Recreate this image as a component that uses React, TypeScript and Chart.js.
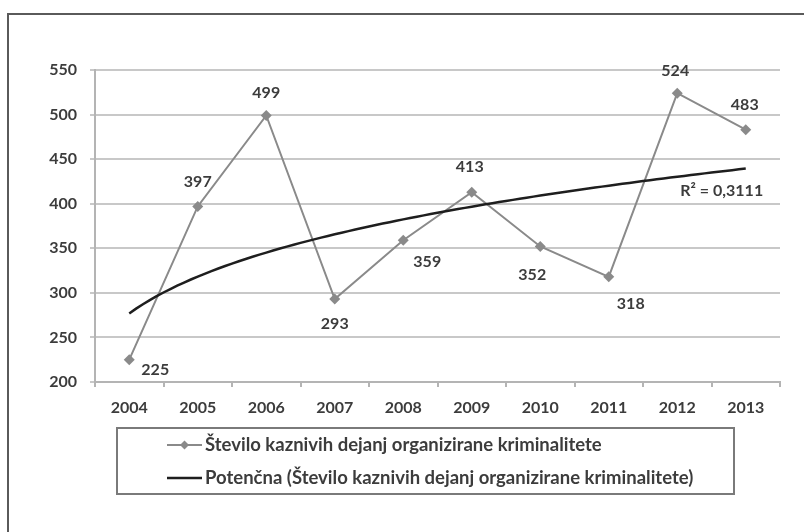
import React, { useEffect, useRef } from "react";
import { Chart, registerables } from "chart.js";

Chart.register(...registerables);

const years = ["2004", "2005", "2006", "2007", "2008", "2009", "2010", "2011", "2012", "2013"];
const crimes = [225, 397, 499, 293, 359, 413, 352, 318, 524, 483];
const yTicks = [200, 250, 300, 350, 400, 450, 500, 550];
const seriesLabel = "Število kaznivih dejanj organizirane kriminalitete";
const trendLabel = "Potenčna (Število kaznivih dejanj organizirane kriminalitete)";

// label offsets (style), relative to each point
const labelDx = [26, 0, 0, 0, 24, -2, -8, 22, -2, -1];
const labelDy = [10, -25, -23, 25, 22, -25, 28, 27, -22, -25];

const FONT = "Lato, 'Liberation Sans', sans-serif";
const TEXT = "#3c3c3c";

// power-law least-squares fit in log space (Excel "Potenčna" trendline)
function powerFit(ys: number[]) {
  const n = ys.length;
  const lx = ys.map((_, i) => Math.log(i + 1));
  const ly = ys.map((v) => Math.log(v));
  const mx = lx.reduce((s, v) => s + v, 0) / n;
  const my = ly.reduce((s, v) => s + v, 0) / n;
  let sxx = 0, sxy = 0, syy = 0;
  for (let i = 0; i < n; i++) {
    sxx += (lx[i] - mx) ** 2;
    sxy += (lx[i] - mx) * (ly[i] - my);
    syy += (ly[i] - my) ** 2;
  }
  const b = sxy / sxx;
  const a = Math.exp(my - b * mx);
  const r2 = (sxy * sxy) / (sxx * syy);
  return { a, b, r2 };
}

export default function App() {
  const ref = useRef<HTMLCanvasElement | null>(null);

  useEffect(() => {
    const canvas = ref.current;
    if (!canvas) return;
    const fit = powerFit(crimes);
    const trend: { x: number; y: number }[] = [];
    for (let k = 0; k <= 90; k++) {
      const x = 1 + k / 10;
      trend.push({ x, y: fit.a * Math.pow(x, fit.b) });
    }
    const r2Text = "R² = " + fit.r2.toFixed(4).replace(".", ",");

    const decor = {
      id: "decor",
      afterDatasetsDraw(chart: any) {
        const ctx = chart.ctx;
        const meta = chart.getDatasetMeta(0);
        ctx.save();
        ctx.font = `bold 16px ${FONT}`;
        ctx.fillStyle = TEXT;
        ctx.textAlign = "center";
        ctx.textBaseline = "middle";
        meta.data.forEach((pt: any, i: number) => {
          ctx.fillText(String(crimes[i]), pt.x + labelDx[i], pt.y + labelDy[i]);
        });
        // R² label near end of trend
        const xs = chart.scales.x2;
        const ys = chart.scales.y;
        const ex = xs.getPixelForValue(10);
        const ey = ys.getPixelForValue(trend[trend.length - 1].y);
        ctx.font = `bold 16px ${FONT}`;
        ctx.fillText(r2Text, ex - 24, ey + 22);
        ctx.restore();
      },
      afterDraw(chart: any) {
        const ctx = chart.ctx;
        ctx.save();
        // outer frame (top + left)
        ctx.strokeStyle = "#5a5a5a";
        ctx.lineWidth = 2;
        ctx.beginPath();
        ctx.moveTo(8, 532);
        ctx.lineTo(8, 14);
        ctx.lineTo(804, 14);
        ctx.stroke();
        // legend box
        ctx.strokeStyle = "#7a7a7a";
        ctx.lineWidth = 2;
        ctx.strokeRect(117, 428, 617, 66);
        const ds = chart.data.datasets;
        const rows = [445, 478];
        ctx.font = `bold 18.5px ${FONT}`;
        ctx.textAlign = "left";
        ctx.textBaseline = "middle";
        rows.forEach((y, i) => {
          const d = ds[i];
          ctx.strokeStyle = d.borderColor;
          ctx.lineWidth = d.borderWidth;
          ctx.beginPath();
          ctx.moveTo(167, y);
          ctx.lineTo(202, y);
          ctx.stroke();
          if (i === 0) {
            ctx.fillStyle = d.borderColor;
            ctx.beginPath();
            ctx.moveTo(184.5, y - 4.5);
            ctx.lineTo(189, y);
            ctx.lineTo(184.5, y + 4.5);
            ctx.lineTo(180, y);
            ctx.closePath();
            ctx.fill();
          }
          ctx.fillStyle = TEXT;
          ctx.fillText(d.label, 205, y);
        });
        ctx.restore();
      },
    };

    const chart = new Chart(canvas, {
      type: "line",
      data: {
        labels: years,
        datasets: [
          {
            label: seriesLabel,
            data: crimes,
            borderColor: "#8a8a8a",
            backgroundColor: "#8a8a8a",
            borderWidth: 2,
            pointStyle: "rectRot",
            pointRadius: 5.5,
            pointBorderWidth: 0,
            pointBackgroundColor: "#8a8a8a",
            tension: 0,
            xAxisID: "x",
            order: 1,
          },
          {
            label: trendLabel,
            data: trend as any,
            borderColor: "#1e1e1e",
            borderWidth: 2.5,
            pointRadius: 0,
            tension: 0,
            xAxisID: "x2",
            order: 0,
          } as any,
        ],
      },
      options: {
        animation: false,
        responsive: false,
        maintainAspectRatio: false,
        layout: { padding: { left: 0, right: 24, top: 70, bottom: 0 } },
        plugins: { legend: { display: false }, tooltip: { enabled: false } },
        scales: {
          x: {
            type: "category",
            offset: true,
            grid: { offset: true, drawOnChartArea: false, drawTicks: true, tickLength: 5, color: "#b4b4b4", lineWidth: 2 },
            border: { display: true, color: "#b4b4b4", width: 2 },
            ticks: { color: TEXT, font: { family: FONT, size: 16, weight: "bold" }, padding: 11, maxRotation: 0 },
            afterFit: (s: any) => { s.height = 150; },
          },
          x2: {
            type: "linear",
            display: false,
            min: 0.5,
            max: 10.5,
          },
          y: {
            min: 200,
            max: 550,
            afterBuildTicks: (s: any) => { s.ticks = yTicks.map((v) => ({ value: v })); },
            grid: { color: "#c8c8c8", lineWidth: 2, tickLength: 5, drawTicks: true },
            border: { display: true, color: "#b4b4b4", width: 2 },
            ticks: { color: TEXT, font: { family: FONT, size: 16, weight: "bold" }, padding: 13 },
            afterFit: (s: any) => { s.width = 95; },
          },
        },
      } as any,
      plugins: [decor],
    });
    return () => chart.destroy();
  }, []);

  return (
    <div style={{ position: "fixed", left: 0, top: 0, width: 804, height: 532, background: "#fff" }}>
      <canvas ref={ref} width={804} height={532} style={{ display: "block" }} />
    </div>
  );
}
